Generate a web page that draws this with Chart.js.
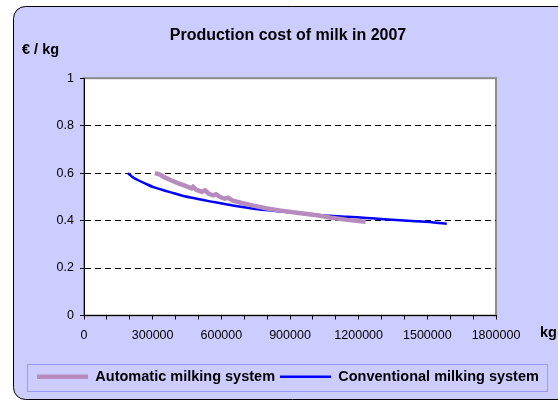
<!DOCTYPE html>
<html>
<head>
<meta charset="utf-8">
<script src="https://cdn.jsdelivr.net/npm/chart.js@4.4.0/dist/chart.umd.min.js"></script>
<style>
  html, body { margin: 0; padding: 0; background: #fff; }
  #wrap { width: 558px; height: 402px; position: relative; }
</style>
</head>
<body>
<div id="wrap"><canvas id="milk-chart" width="558" height="402"></canvas></div>
<script>
// Production cost of milk (€/kg) against annual milk volume (kg)
const chartTitle = 'Production cost of milk in 2007';
const seriesNames = ['Automatic milking system', 'Conventional milking system'];

const amsKg = [310000, 332000, 350000, 380000, 410000, 440000, 470000, 476000, 490000,
    515000, 529000, 545000, 565000, 577000, 595000, 615000, 629000, 650000, 690000,
    740000, 800000, 860000, 930000, 1000000, 1080000, 1150000, 1230000];
const amsCost = [0.600, 0.594, 0.583, 0.570, 0.558, 0.547, 0.536, 0.542, 0.530,
    0.521, 0.527, 0.513, 0.506, 0.511, 0.499, 0.492, 0.496, 0.484, 0.474,
    0.463, 0.451, 0.442, 0.433, 0.425, 0.412, 0.403, 0.395];

const convKg = [192000, 210000, 237000, 270000, 303000, 340000, 376000, 430000, 492000,
    550000, 609000, 670000, 740000, 810000, 885000, 960000, 1075000, 1150000, 1235000,
    1310000, 1381000, 1450000, 1520000, 1585000];
const convCost = [0.600, 0.585, 0.570, 0.555, 0.541, 0.530, 0.520, 0.505, 0.492,
    0.481, 0.471, 0.460, 0.450, 0.443, 0.436, 0.430, 0.420, 0.416, 0.411,
    0.406, 0.401, 0.397, 0.393, 0.387];

const xLabelStep = 300000;

function toPoints(xs, ys) {
    return xs.map((x, i) => ({ x: x, y: ys[i] }));
}

// Excel-like frame: lavender rounded panel, white plot area, legend box, unit labels
const framePlugin = {
    id: 'frame',
    beforeDraw(chart) {
        const ctx = chart.ctx;
        const a = chart.chartArea;
        ctx.save();
        ctx.fillStyle = '#ffffff';
        ctx.fillRect(0, 0, chart.width, chart.height);

        ctx.beginPath();
        ctx.roundRect(13.5, 6.5, 580, 393, 12);
        ctx.fillStyle = '#ccccff';
        ctx.fill();
        ctx.strokeStyle = '#000000';
        ctx.lineWidth = 1;
        ctx.stroke();

        ctx.fillStyle = '#ffffff';
        ctx.fillRect(a.left, a.top, a.right - a.left, a.bottom - a.top);
        ctx.strokeStyle = '#8c8c8c';
        ctx.lineWidth = 2;
        ctx.strokeRect(a.left, a.top, a.right - a.left, a.bottom - a.top);

        // legend border
        ctx.strokeStyle = '#9999ff';
        ctx.lineWidth = 1;
        ctx.strokeRect(27.5, 364.5, 520, 27);
        ctx.restore();
    },
    afterDraw(chart) {
        const ctx = chart.ctx;
        ctx.save();
        ctx.fillStyle = '#000000';
        ctx.font = 'bold 14.5px Arial, "Liberation Sans"';
        ctx.textBaseline = 'alphabetic';
        ctx.textAlign = 'left';
        ctx.fillText('€ / kg', 22, 54);
        ctx.fillText('kg', 540, 337);
        ctx.restore();
    }
};

const ctx = document.getElementById('milk-chart');
const milkChart = new Chart(ctx, {
    type: 'line',
    data: {
        datasets: [{
            label: seriesNames[0],
            data: toPoints(amsKg, amsCost),
            borderColor: '#b78bbd',
            backgroundColor: '#b78bbd',
            borderWidth: 4.5,
            tension: 0,
            pointRadius: 0,
            fill: false
        }, {
            label: seriesNames[1],
            data: toPoints(convKg, convCost),
            borderColor: '#0000ff',
            backgroundColor: '#0000ff',
            borderWidth: 2.5,
            tension: 0.3,
            pointRadius: 0,
            fill: false
        }]
    },
    options: {
        responsive: false,
        animation: false,
        devicePixelRatio: 1,
        layout: {
            padding: { left: 18, right: 0, top: 0, bottom: 8 }
        },
        plugins: {
            title: {
                display: true,
                text: chartTitle,
                color: '#000000',
                font: { family: 'Arial, "Liberation Sans"', size: 16, weight: 'bold' },
                padding: { top: 26, bottom: 33 }
            },
            legend: {
                display: true,
                position: 'bottom',
                labels: {
                    color: '#000000',
                    font: { family: 'Arial, "Liberation Sans"', size: 14.5, weight: 'bold' },
                    usePointStyle: true,
                    pointStyle: 'line',
                    pointStyleWidth: 51,
                    padding: 5
                }
            },
            tooltip: { enabled: false }
        },
        scales: {
            x: {
                type: 'linear',
                min: 0,
                max: 1800000,
                afterFit: function(scale) { scale.height = 49; },
                border: { display: true, color: '#000000', width: 1 },
                grid: {
                    drawOnChartArea: false,
                    drawTicks: true,
                    tickLength: 4,
                    tickColor: '#000000'
                },
                ticks: {
                    stepSize: 100000,
                    autoSkip: false,
                    maxRotation: 0,
                    color: '#000000',
                    padding: 9,
                    font: { family: 'Arial, "Liberation Sans"', size: 12.5 },
                    callback: function(value) {
                        return value % xLabelStep === 0 ? String(value) : '';
                    }
                }
            },
            y: {
                min: 0,
                max: 1,
                afterFit: function(scale) { scale.width = 66; },
                border: { display: true, color: '#000000', width: 1, dash: [6, 4] },
                grid: {
                    color: function(c) {
                        const v = c.tick ? c.tick.value : 0;
                        return (v <= 0 || v >= 1) ? 'rgba(0,0,0,0)' : '#000000';
                    },
                    lineWidth: 1,
                    drawTicks: true,
                    tickLength: 4,
                    tickColor: '#000000',
                    tickBorderDash: []
                },
                ticks: {
                    stepSize: 0.2,
                    color: '#000000',
                    padding: 6,
                    font: { family: 'Arial, "Liberation Sans"', size: 12.5 },
                    callback: function(value) {
                        return String(Math.round(value * 10) / 10);
                    }
                }
            },
            // empty right-hand axis keeps the plot clear of the "kg" label
            y2: {
                position: 'right',
                display: true,
                afterFit: function(scale) { scale.width = 62; },
                border: { display: false },
                grid: { drawOnChartArea: false, drawTicks: false },
                ticks: { display: false }
            }
        }
    },
    plugins: [framePlugin]
});
</script>
</body>
</html>
